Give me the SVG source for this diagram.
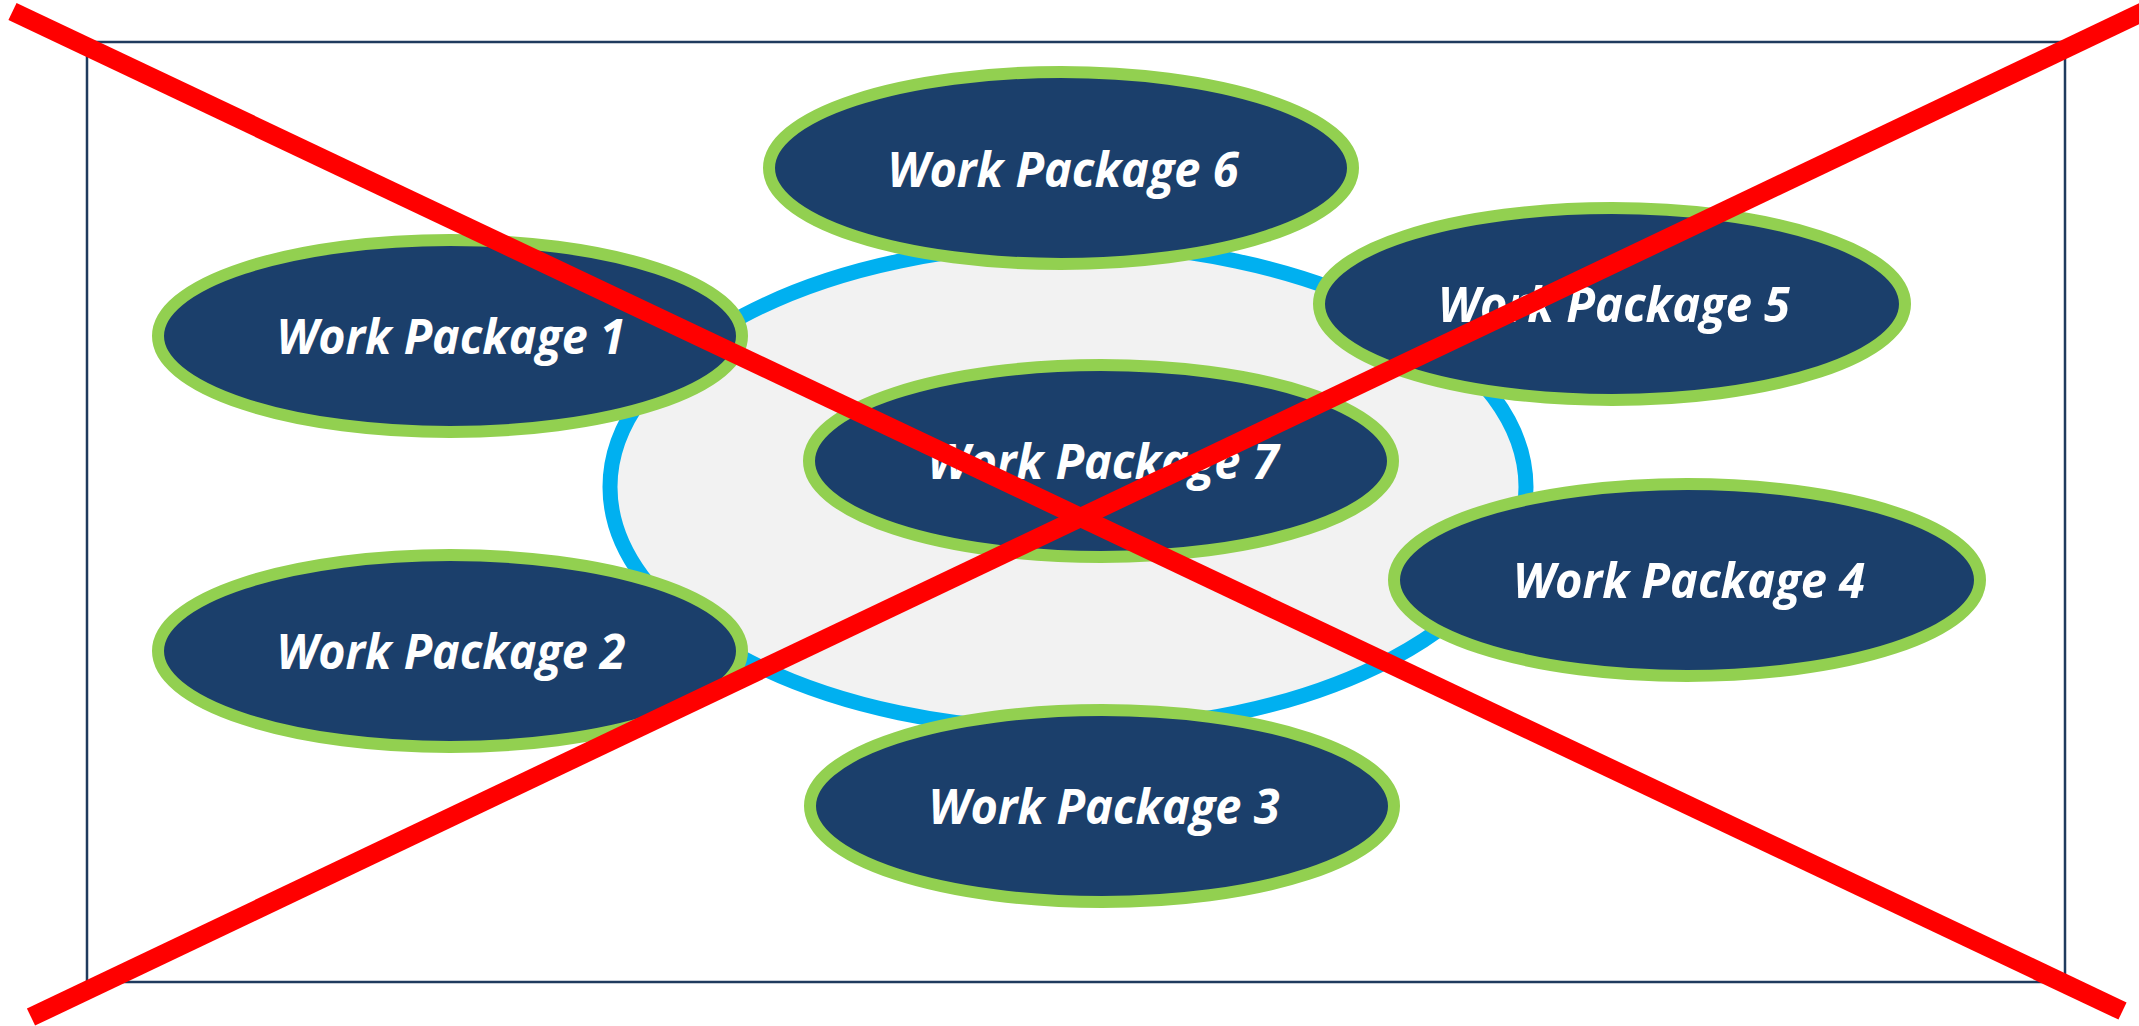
<svg xmlns="http://www.w3.org/2000/svg" width="2139" height="1026" viewBox="0 0 2139 1026">
<style>
.wp ellipse{fill:#1b3f6b;stroke:#92d050;stroke-width:12}
.wp text{fill:#ffffff;font-family:"Open Sans","Liberation Sans",sans-serif;font-weight:bold;font-style:italic;font-size:49px;text-anchor:middle}
.cross{stroke:#ff0000;stroke-width:19;stroke-linecap:butt}
</style>
<rect x="0" y="0" width="2139" height="1026" fill="#ffffff"/>
<rect id="frame" x="87" y="42" width="1978" height="940" fill="none" stroke="#1f3b5e" stroke-width="2.5"/>
<g id="hub"><ellipse cx="1068" cy="487" rx="458" ry="243" fill="#f2f2f2" stroke="#00b0f0" stroke-width="15"/></g>
<g id="wp6" class="wp"><ellipse cx="1061" cy="168" rx="292" ry="96"/><text x="1063" y="187" textLength="351" lengthAdjust="spacingAndGlyphs">Work Package 6</text></g>
<g id="wp1" class="wp"><ellipse cx="450" cy="336" rx="292" ry="96"/><text x="451" y="354" textLength="349" lengthAdjust="spacingAndGlyphs">Work Package 1</text></g>
<g id="wp5" class="wp"><ellipse cx="1612" cy="304" rx="293" ry="96"/><text x="1614" y="322" textLength="352" lengthAdjust="spacingAndGlyphs">Work Package 5</text></g>
<g id="wp7" class="wp"><ellipse cx="1101" cy="461" rx="292" ry="96"/><text x="1103" y="479" textLength="351" lengthAdjust="spacingAndGlyphs">Work Package 7</text></g>
<g id="wp4" class="wp"><ellipse cx="1687" cy="580" rx="293" ry="96"/><text x="1689" y="598" textLength="352" lengthAdjust="spacingAndGlyphs">Work Package 4</text></g>
<g id="wp2" class="wp"><ellipse cx="450" cy="651" rx="292" ry="96"/><text x="451" y="669" textLength="349" lengthAdjust="spacingAndGlyphs">Work Package 2</text></g>
<g id="wp3" class="wp"><ellipse cx="1102" cy="806" rx="292" ry="96"/><text x="1104" y="824" textLength="351" lengthAdjust="spacingAndGlyphs">Work Package 3</text></g>
<g id="connectors">
<line class="cross" x1="12.5" y1="11.5" x2="2122.5" y2="1011"/>
<line class="cross" x1="31" y1="1017" x2="2150" y2="8.5"/>
</g>
</svg>
